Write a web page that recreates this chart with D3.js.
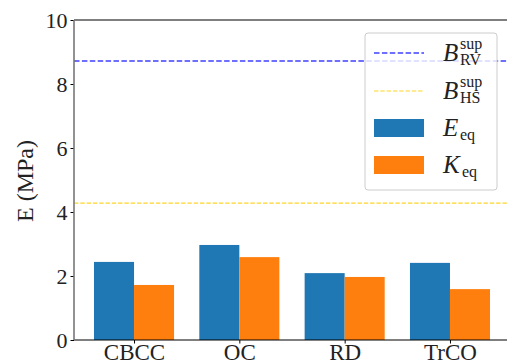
<!DOCTYPE html>
<html>
<head>
<meta charset="utf-8">
<script src="https://cdn.jsdelivr.net/npm/d3@7"></script>
<style>
  body { margin: 0; background: #fff; }
</style>
</head>
<body>
<div id="chart-area"></div>
<script>
var categories = ['CBCC', 'OC', 'RD', 'TrCO'];
var eEq = [2.44, 2.97, 2.09, 2.41];
var kEq = [1.72, 2.59, 1.97, 1.59];
var bRV = 8.72;
var bHS = 4.28;
var yTicks = [0, 2, 4, 6, 8, 10];

var W = 507, H = 363;
var margin = { top: 20, left: 74, bottom: 23, right: -3 };
var width = W - margin.left - margin.right;
var height = H - margin.top - margin.bottom;
var serif = '"Liberation Serif", "DejaVu Serif", serif';

var svg = d3.select('#chart-area').append('svg')
	.attr('width', W)
	.attr('height', H)
	.style('font-family', serif);

var g = svg.append('g').attr('transform', `translate(${margin.left}, ${margin.top})`);

var x = d3.scaleLinear().domain([-0.57, 3.57]).range([0, width]);
var y = d3.scaleLinear().domain([0, 10]).range([height, 0]);
var barW = x(0.38) - x(0);

var blue = '#1f77b4', orange = '#ff7f0e';

// bars
categories.forEach((c, i) => {
	g.append('rect')
		.attr('x', x(i - 0.38))
		.attr('y', y(eEq[i]))
		.attr('width', barW)
		.attr('height', y(0) - y(eEq[i]))
		.attr('fill', blue);
	g.append('rect')
		.attr('x', x(i))
		.attr('y', y(kEq[i]))
		.attr('width', barW)
		.attr('height', y(0) - y(kEq[i]))
		.attr('fill', orange);
});

// bound lines
g.append('line')
	.attr('x1', 0).attr('x2', width)
	.attr('y1', y(bRV)).attr('y2', y(bRV))
	.attr('stroke', '#4040ff').attr('stroke-width', 1.5)
	.attr('stroke-dasharray', '5.5,2.4');
g.append('line')
	.attr('x1', 0).attr('x2', width)
	.attr('y1', y(bHS)).attr('y2', y(bHS))
	.attr('stroke', '#ffd52a').attr('stroke-width', 1.2)
	.attr('stroke-dasharray', '4.4,1.9');

// axes
var yAxis = g.append('g')
	.call(d3.axisLeft(y).tickValues(yTicks).tickSize(3.5).tickPadding(3))
	.attr('font-family', serif);
yAxis.select('.domain').remove();
yAxis.selectAll('text').style('font-family', serif).attr('font-size', '22px').attr('fill', '#222').attr('dy', '0.35em');
yAxis.selectAll('line').attr('stroke', '#000').attr('stroke-width', 1);

var xAxis = g.append('g')
	.attr('transform', `translate(0, ${height})`)
	.call(d3.axisBottom(x).tickValues([0, 1, 2, 3]).tickFormat((d, i) => categories[i]).tickSize(3.5))
	.attr('font-family', serif);
xAxis.select('.domain').remove();
xAxis.selectAll('text').style('font-family', serif).attr('font-size', '23px').attr('fill', '#222')
	.attr('y', 20).attr('dy', 0);
xAxis.selectAll('line').attr('stroke', '#000').attr('stroke-width', 1);

// spines
g.append('line').attr('x1', 0).attr('x2', width).attr('y1', height).attr('y2', height)
	.attr('stroke', '#000').attr('stroke-width', 1.2);
g.append('line').attr('x1', 0).attr('x2', width).attr('y1', 0).attr('y2', 0)
	.attr('stroke', '#000').attr('stroke-width', 1.2);
g.append('line').attr('x1', 0).attr('x2', 0).attr('y1', 0).attr('y2', height)
	.attr('stroke', '#777').attr('stroke-width', 1.6);

// y label
svg.append('text')
	.attr('transform', 'translate(33, 181) rotate(-90)')
	.attr('text-anchor', 'middle')
	.attr('font-size', '24px')
	.attr('fill', '#222')
	.text('E (MPa)');

// legend
var legend = svg.append('g').attr('transform', 'translate(365, 33)');
legend.append('rect')
	.attr('width', 132).attr('height', 157).attr('rx', 3)
	.attr('fill', '#fff').attr('fill-opacity', 0.8)
	.attr('stroke', '#ccc').attr('stroke-width', 1);

var items = [
	{ type: 'line', color: '#4040ff', dash: '5.5,2.4', sw: 1.5, sym: 'B', sub: 'RV', sup: 'sup', cy: 20 },
	{ type: 'line', color: '#ffd52a', dash: '4.4,1.9', sw: 1.2, sym: 'B', sub: 'HS', sup: 'sup', cy: 58 },
	{ type: 'rect', color: blue, sym: 'E', sub: 'eq', cy: 95 },
	{ type: 'rect', color: orange, sym: 'K', sub: 'eq', cy: 132 }
];

items.forEach(d => {
	if (d.type == 'line') {
		legend.append('line')
			.attr('x1', 9).attr('x2', 59).attr('y1', d.cy).attr('y2', d.cy)
			.attr('stroke', d.color).attr('stroke-width', d.sw)
			.attr('stroke-dasharray', d.dash);
	} else {
		legend.append('rect')
			.attr('x', 9).attr('y', d.cy - 9).attr('width', 50).attr('height', 18)
			.attr('fill', d.color);
	}
	var t = legend.append('text')
		.attr('x', 78).attr('y', d.cy + 8)
		.attr('font-size', '25px')
		.attr('fill', '#222');
	t.append('tspan').attr('font-style', 'italic').text(d.sym);
	var subX = 78 + (d.sym == 'K' ? 19 : 17);
	t.append('tspan').attr('x', subX).attr('dy', 4).attr('font-size', '16px').text(d.sub);
	if (d.sup) {
		t.append('tspan').attr('x', subX).attr('dy', -16).attr('font-size', '16px').text(d.sup);
	}
});
</script>
</body>
</html>
